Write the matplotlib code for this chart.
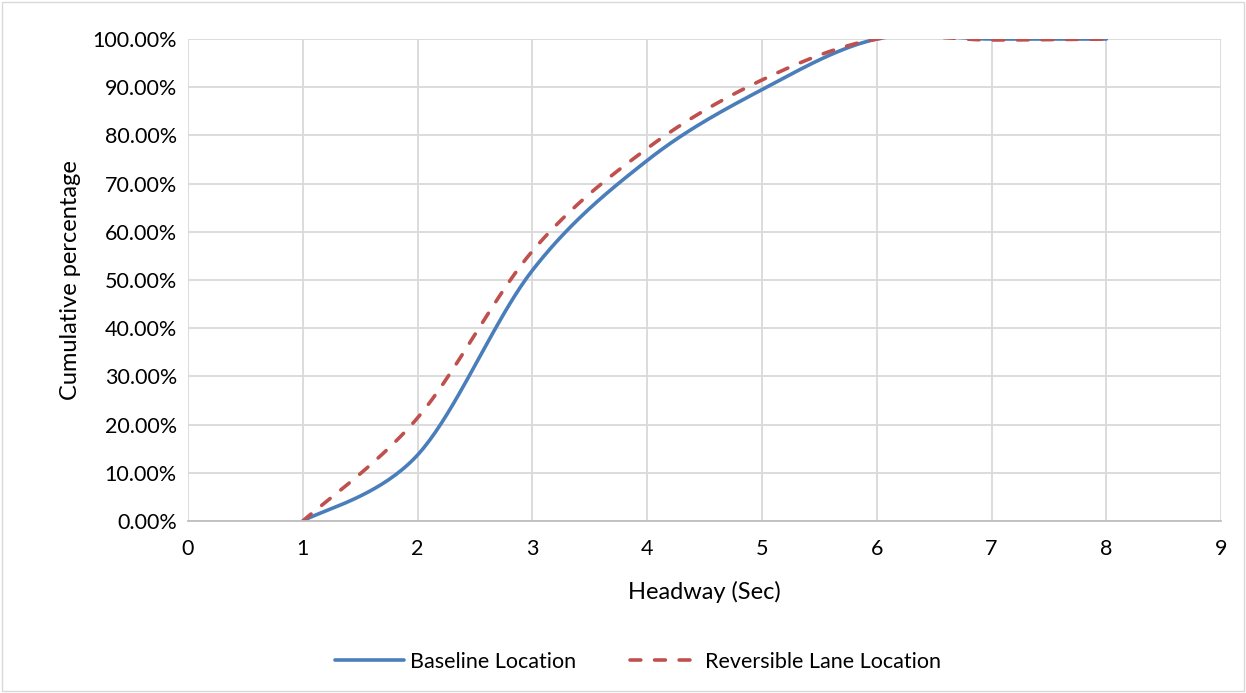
import numpy as np
import matplotlib.pyplot as plt
from matplotlib.ticker import FuncFormatter

# ===== DATA =====
headway = [1, 2, 3, 4, 5, 6, 7, 8]
baseline = [0.0, 13.7, 52.0, 74.8, 89.5, 100.0, 100.0, 100.0]
reversible = [0.0, 21.4, 56.0, 77.3, 91.5, 100.0, 99.8, 100.0]


def smooth(x, y, n=40):
    # Excel-like smoothed line (Catmull-Rom style Bezier)
    x = np.asarray(x, float)
    y = np.asarray(y, float)
    px = np.concatenate([[x[0]], x, [x[-1]]])
    py = np.concatenate([[y[0]], y, [y[-1]]])
    xs, ys = [], []
    t = np.linspace(0, 1, n)
    for i in range(1, len(px) - 2):
        p0 = np.array([px[i], py[i]])
        p3 = np.array([px[i + 1], py[i + 1]])
        c1 = p0 + (p3 - np.array([px[i - 1], py[i - 1]])) / 6
        c2 = p3 - (np.array([px[i + 2], py[i + 2]]) - p0) / 6
        b = ((1 - t) ** 3)[:, None] * p0 + (3 * (1 - t) ** 2 * t)[:, None] * c1 \
            + (3 * (1 - t) * t ** 2)[:, None] * c2 + (t ** 3)[:, None] * p3
        xs.extend(b[:, 0])
        ys.extend(b[:, 1])
    return np.array(xs), np.array(ys)


plt.rcParams['font.family'] = ['Lato', 'DejaVu Sans']

fig = plt.figure(figsize=(12.46, 6.93), dpi=100)
ax = fig.add_axes([0.1509, 0.2482, 0.8291, 0.6955])

bx, by = smooth(headway, baseline)
rx, ry = smooth(headway, reversible)
ax.plot(bx, by, color='#4a7ebb', lw=2.6, label='Baseline Location', solid_capstyle='round')
ax.plot(rx, ry, color='#c0504d', lw=2.6, ls=(0, (3.0, 3.8)), label='Reversible Lane Location',
        dash_capstyle='round')

ax.set_xlim(0, 9)
ax.set_ylim(0, 100)
ax.set_xticks(range(0, 10))
ax.set_yticks(range(0, 101, 10))
ax.yaxis.set_major_formatter(FuncFormatter(lambda v, p: f'{v:.2f}%'))
ax.grid(True, color='#d9d9d9', lw=1.3)
ax.set_axisbelow(True)
for s in ['top', 'right', 'left']:
    ax.spines[s].set_visible(False)
ax.spines['bottom'].set_color('#bfbfbf')
ax.spines['bottom'].set_linewidth(1.3)
ax.tick_params(length=0, labelsize=15.5, colors='black', pad=8)
ax.tick_params(axis='x', pad=13)
ax.set_xlabel('Headway (Sec)', fontsize=17, labelpad=16)
ax.set_ylabel('Cumulative percentage', fontsize=17, labelpad=8)

fig.legend(loc='center', bbox_to_anchor=(0.512, 0.045), ncol=2, frameon=False,
           fontsize=15.5, handlelength=3.2, handletextpad=0.3, columnspacing=2.5)

fig.patches.append(plt.Rectangle((0.002, 0.003), 0.996, 0.994, transform=fig.transFigure,
                                 fill=False, edgecolor='#d9d9d9', lw=1))

fig.savefig('out.png', dpi=100)
